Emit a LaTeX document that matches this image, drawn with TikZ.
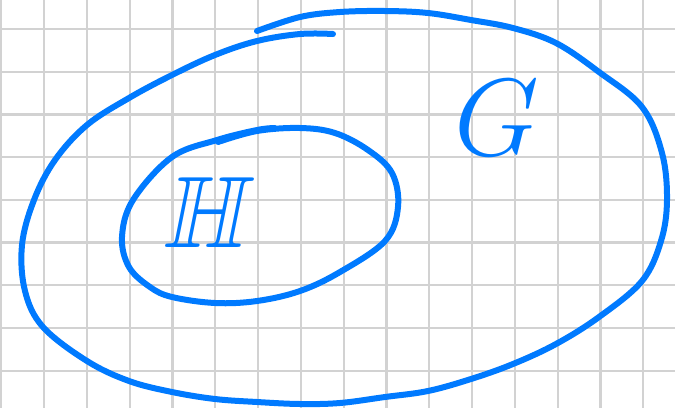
\documentclass[tikz,border=0pt]{standalone}
\usepackage{amsmath}
\usepackage{amssymb}
\usepackage{tikz}
\usetikzlibrary{calc}

\definecolor{penblue}{RGB}{0,122,255}
\definecolor{gridgray}{RGB}{210,210,210}

\begin{document}
\begin{tikzpicture}[
        x=1pt, y=-1pt,
        gridline/.style={draw=gridgray, line width=2.2pt},
        pen/.style={draw=penblue, line width=6pt, line cap=round, line join=round},
        letter/.style={text=penblue, inner sep=0pt, transform shape, font=\fontsize{20.74}{24}\selectfont}
    ]
    \useasboundingbox (0,0) rectangle (675,408);
    \fill[white] (0,0) rectangle (675,408);

    % Squared paper
    \foreach \k in {0,...,15}
        \draw[gridline] (1.2+42.8*\k,0) -- (1.2+42.8*\k,408);
    \foreach \k in {0,...,8}
        \draw[gridline] (0,29+42.7*\k) -- (675,29+42.7*\k);

    % Outer set G
    \draw[pen] plot[smooth, tension=0.6] coordinates {
        (333,34) (300,34) (257,41) (215,55) (172,75) (129,98) (87,125)
        (55,160) (34,200) (22,245) (25,291) (43,327) (87,361) (129,381)
        (172,392) (215,399) (257,402) (300,404) (340,403) (385,397)
        (428,391) (471,379) (513,364) (556,344) (599,317) (642,281)
        (661,241) (667,200) (662,153) (642,107) (599,72)
        (556,43) (513,28) (471,20) (428,13) (385,11) (340,12) (300,17)
        (257,31)};

    % Inner set H
    \draw[pen] plot[smooth, tension=0.6] coordinates {
        (275,128) (257,130) (217,140) (172,157) (133,200) (122,237)
        (129,267) (150,287) (172,297) (215,303) (257,301) (300,291)
        (340,272) (385,241) (398,207) (392,173) (368,150) (335,133)
        (300,128) (257,131) (218,142)};

    % Labels
    \node[letter, scale=4.9, xslant=0.2] (lblH) at (210,212) {$\mathbb{H}$};
    \node[letter, scale=5.3] (lblG) at (497,118) {$G$};

\end{tikzpicture}
\end{document}
